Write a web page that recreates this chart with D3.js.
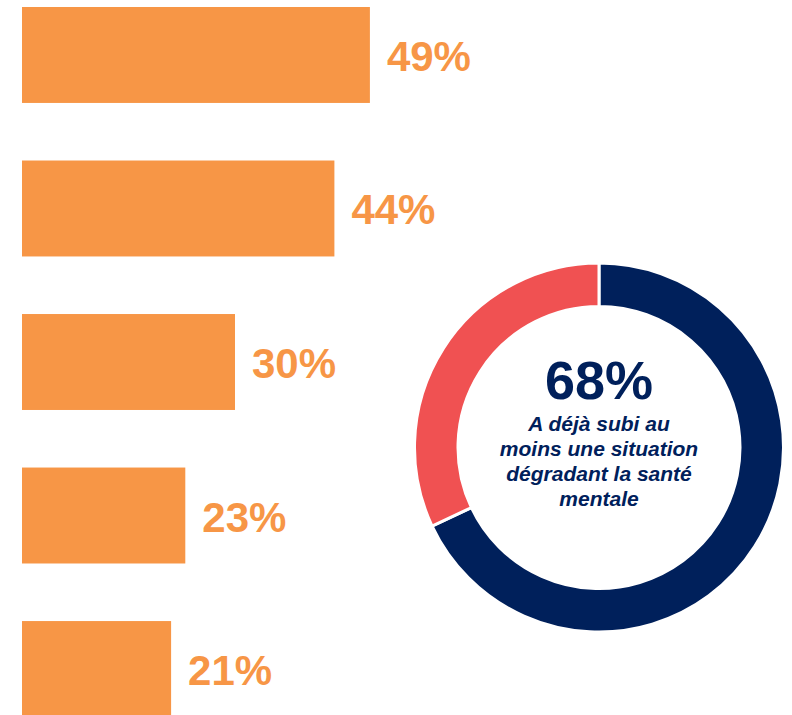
<!DOCTYPE html>
<html lang="fr">
<head>
<meta charset="utf-8">
<title>Santé mentale</title>
<script src="https://cdn.jsdelivr.net/npm/d3@7"></script>
<style>
  body { margin: 0; background: #fff; }
  svg { display: block; font-family: "Liberation Sans", Arial, sans-serif; }
</style>
</head>
<body>
<script>
// bar values (category names are not shown in the picture)
var barKeys = ["s1", "s2", "s3", "s4", "s5"];
var barValues = [49, 44, 30, 23, 21];

// donut
var donutLabels = ["Oui", "Non"];
var donutValues = [68, 32];
var donutTitle = "68%";
var donutText = ["A déjà subi au", "moins une situation", "dégradant la santé", "mentale"];

var w = 792, h = 715;

var svg = d3.select("body").append("svg")
    .attr("width", w)
    .attr("height", h);

// bars
var x = d3.scaleLinear().domain([0, 100]).range([22, 732]);
var y = d3.scaleBand().domain(barKeys).range([7, 717]).paddingInner(0.375).paddingOuter(0);

svg.selectAll("rect.bar")
    .data(barValues)
    .enter()
    .append("rect")
    .attr("class", "bar")
    .attr("x", x(0))
    .attr("y", function(d, i) { return y(barKeys[i]); })
    .attr("width", function(d) { return x(d) - x(0); })
    .attr("height", y.bandwidth())
    .attr("fill", "#f79646");

svg.selectAll("text.val")
    .data(barValues)
    .enter()
    .append("text")
    .attr("class", "val")
    .attr("x", function(d) { return x(d) + 17; })
    .attr("y", function(d, i) { return y(barKeys[i]) + y.bandwidth() / 2 + 16; })
    .attr("font-size", "42px")
    .attr("font-weight", "bold")
    .attr("fill", "#f79646")
    .text(function(d) { return d + "%"; });

// donut
var cx = 599, cy = 447.5;
var pie = d3.pie().sort(null);
var arc = d3.arc().innerRadius(141).outerRadius(184.5);
var donutColors = d3.scaleOrdinal().domain(donutLabels).range(["#00205b", "#f05152"]);

var g = svg.append("g").attr("transform", "translate(" + cx + "," + cy + ")");

g.selectAll("path")
    .data(pie(donutValues))
    .enter()
    .append("path")
    .attr("d", arc)
    .attr("fill", function(d, i) { return donutColors(donutLabels[i]); })
    .attr("stroke", "#fff")
    .attr("stroke-width", 3);

g.append("text")
    .attr("text-anchor", "middle")
    .attr("y", -49)
    .attr("font-size", "54px")
    .attr("font-weight", "bold")
    .attr("fill", "#00205b")
    .text(donutTitle);

g.selectAll("text.sub")
    .data(donutText)
    .enter()
    .append("text")
    .attr("class", "sub")
    .attr("text-anchor", "middle")
    .attr("y", function(d, i) { return -17 + i * 25; })
    .attr("font-size", "21px")
    .attr("font-weight", "bold")
    .attr("font-style", "italic")
    .attr("fill", "#00205b")
    .text(function(d) { return d; });
</script>
</body>
</html>
